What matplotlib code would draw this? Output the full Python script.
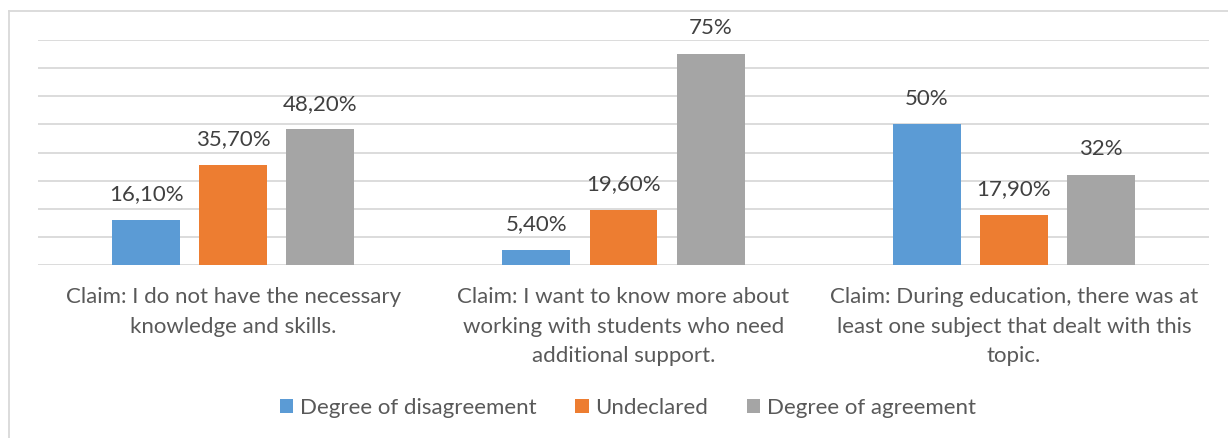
import matplotlib.pyplot as plt
import numpy as np
from matplotlib.lines import Line2D

# Data
categories = [
    "Claim: I do not have the necessary\nknowledge and skills.",
    "Claim: I want to know more about\nworking with students who need\nadditional support.",
    "Claim: During education, there was at\nleast one subject that dealt with this\ntopic.",
]
series_names = ["Degree of disagreement", "Undeclared", "Degree of agreement"]
disagreement = [16.1, 5.4, 50.0]
undeclared = [35.7, 19.6, 17.9]
agreement = [48.2, 75.0, 32.0]
value_labels = [
    ["16,10%", "5,40%", "50%"],
    ["35,70%", "19,60%", "17,90%"],
    ["48,20%", "75%", "32%"],
]

colors = ["#5B9BD5", "#ED7D31", "#A5A5A5"]

plt.rcParams["font.family"] = ["Lato", "DejaVu Sans"]

W, H = 1228, 438
fig = plt.figure(figsize=(W / 100, H / 100), dpi=100)
ax = fig.add_axes([38 / W, 1 - 265 / H, (1209 - 38) / W, (265 - 40) / H])

x = np.arange(len(categories))
bar_w = 0.174
step = 0.223
series = [disagreement, undeclared, agreement]
for i, (vals, col, name) in enumerate(zip(series, colors, series_names)):
    pos = x + (i - 1) * step
    bars = ax.bar(pos, vals, width=bar_w, color=col, label=name, zorder=3)
    for rect, lab in zip(bars, value_labels[i]):
        ax.annotate(lab, (rect.get_x() + rect.get_width() / 2, rect.get_height()),
                    xytext=(0, 18.5), textcoords="offset points",
                    ha="center", va="center", fontsize=16, color="#404040")

ax.set_xlim(-0.5, 2.5)
ax.set_ylim(0, 80)
ax.set_yticks(np.arange(0, 81, 10))
ax.yaxis.grid(True, color="#D9D9D9", linewidth=1.3, zorder=0)
ax.tick_params(axis="y", left=False, labelleft=False)
ax.tick_params(axis="x", length=0, pad=16)
ax.set_xticks(x)
ax.set_xticklabels(categories, fontsize=16, color="#595959", linespacing=1.6)
for s in ax.spines.values():
    s.set_visible(False)

# chart border (top and left visible)
fig.add_artist(Line2D([9 / W, 1.0], [1 - 11 / H, 1 - 11 / H], color="#D9D9D9", lw=1.3))
fig.add_artist(Line2D([9 / W, 9 / W], [0, 1 - 11 / H], color="#D9D9D9", lw=1.3))

fig.legend(loc="center", bbox_to_anchor=(628 / W, 1 - 408 / H), ncol=3, frameon=False,
           fontsize=16, handlelength=0.6, handleheight=0.6, handletextpad=0.3,
           columnspacing=1.75, labelcolor="#595959")

fig.savefig("out.png", dpi=100)
